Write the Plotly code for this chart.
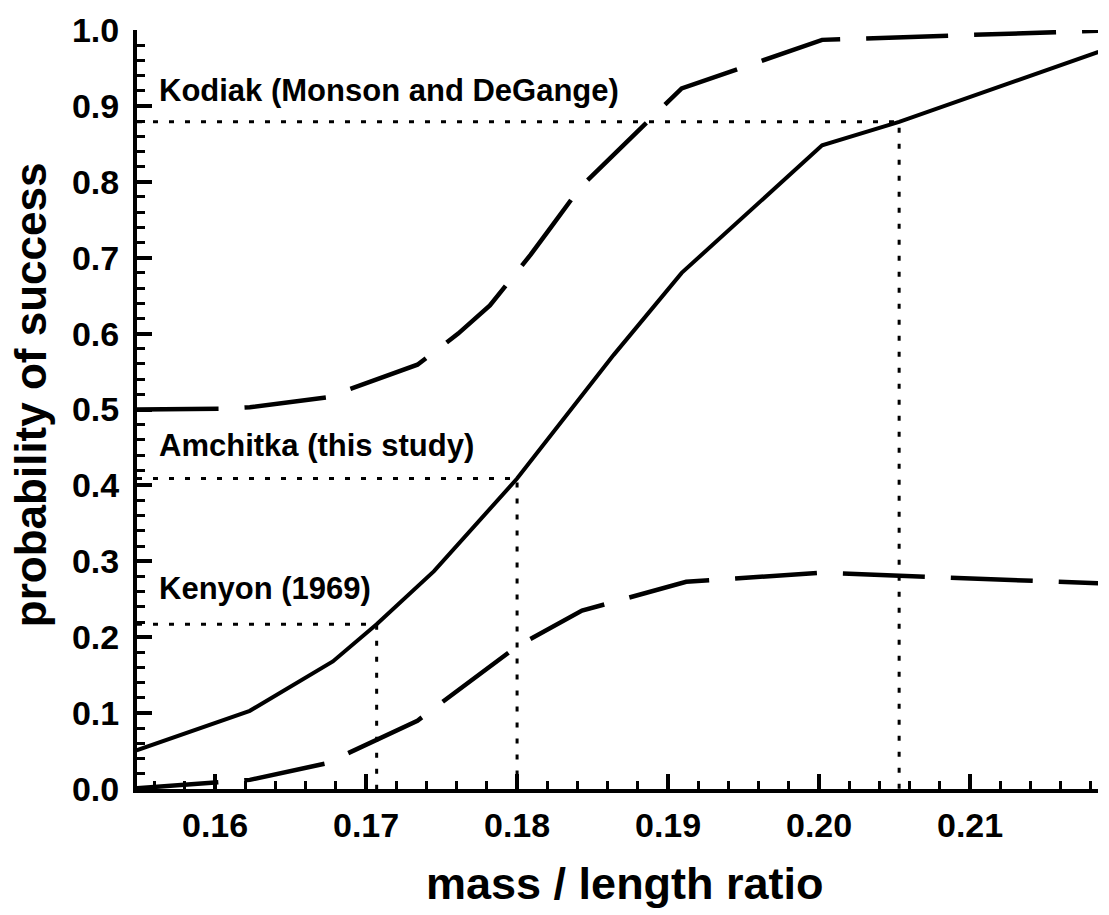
import plotly.graph_objects as go

# Amchitka logistic fit (solid) and its confidence bounds (dashed)
amchitka_mass = [0.1548, 0.1623, 0.1678, 0.1707, 0.1745, 0.1800, 0.1864, 0.1909, 0.2002, 0.2053, 0.2185]
amchitka_prob = [0.051, 0.103, 0.168, 0.217, 0.287, 0.409, 0.572, 0.680, 0.848, 0.879, 0.971]

upper_mass = [0.1548, 0.1605, 0.1623, 0.1674, 0.1734, 0.1761, 0.1782, 0.1809, 0.1822, 0.1842, 0.1909, 0.2002, 0.2185]
upper_prob = [0.500, 0.501, 0.503, 0.516, 0.559, 0.600, 0.637, 0.704, 0.739, 0.793, 0.923, 0.987, 0.999]

lower_mass = [0.1548, 0.1623, 0.1674, 0.1734, 0.1800, 0.1843, 0.1912, 0.2001, 0.2185]
lower_prob = [0.001, 0.012, 0.034, 0.090, 0.188, 0.235, 0.273, 0.285, 0.271]

# Reference populations: mean mass/length ratio and the matching probability
ref_labels = ["Kenyon (1969)", "Amchitka (this study)", "Kodiak (Monson and DeGange)"]
ref_mass = [0.1707, 0.1800, 0.2053]
ref_prob = [0.217, 0.409, 0.879]

x_ticks = [0.16, 0.17, 0.18, 0.19, 0.20, 0.21]
y_ticks = [0.0, 0.1, 0.2, 0.3, 0.4, 0.5, 0.6, 0.7, 0.8, 0.9, 1.0]

X_MIN, X_MAX = 0.15483, 0.21847
FONT = "Liberation Sans, Arial, Helvetica, sans-serif"

fig = go.Figure()

# dotted guide lines for each reference population
for m, p in zip(ref_mass, ref_prob):
    fig.add_trace(go.Scatter(
        x=[X_MIN, m, m], y=[p, p, 0],
        mode="lines", line=dict(color="black", width=3, dash="5px,11px"),
        hoverinfo="skip", showlegend=False))

fig.add_trace(go.Scatter(x=upper_mass, y=upper_prob, mode="lines",
                         line=dict(color="black", width=4.5, dash="82px,26px"),
                         showlegend=False))
fig.add_trace(go.Scatter(x=lower_mass, y=lower_prob, mode="lines",
                         line=dict(color="black", width=4.5, dash="82px,26px"),
                         showlegend=False))
fig.add_trace(go.Scatter(x=amchitka_mass, y=amchitka_prob, mode="lines",
                         line=dict(color="black", width=4),
                         showlegend=False))

# population labels above each horizontal guide
label_y = [0.264, 0.452, 0.92]
for txt, yy in zip(ref_labels, label_y):
    fig.add_annotation(x=X_MIN, y=yy, xref="x", yref="y", text=txt,
                       showarrow=False, xanchor="left", yanchor="middle", xshift=20,
                       font=dict(family=FONT, size=31, color="black", weight="bold"))

fig.add_annotation(x=0.5073, y=-0.125, xref="paper", yref="paper",
                   text="mass / length ratio", showarrow=False,
                   xanchor="center", yanchor="middle",
                   font=dict(family=FONT, size=45, color="black", weight="bold"))
fig.add_annotation(x=-0.1115, y=0.52, xref="paper", yref="paper",
                   text="probability of success", showarrow=False, textangle=-90,
                   xanchor="center", yanchor="middle",
                   font=dict(family=FONT, size=44, color="black", weight="bold"))

axis_common = dict(
    showline=True, linecolor="black", linewidth=4,
    ticks="inside", ticklen=15, tickwidth=4, tickcolor="black",
    showgrid=False, zeroline=False,
    tickfont=dict(family=FONT, size=34, color="black", weight="bold"),
)

fig.update_xaxes(range=[X_MIN, X_MAX], tickvals=x_ticks,
                 ticktext=[f"{v:.2f}" for v in x_ticks],
                 minor=dict(dtick=0.002, tick0=0.16, ticks="inside", ticklen=8,
                            tickwidth=3, tickcolor="black", showgrid=False),
                 ticklabelstandoff=3, **axis_common)
fig.update_yaxes(range=[0, 1.0], tickvals=y_ticks,
                 ticktext=[f"{v:.1f}" for v in y_ticks],
                 minor=dict(dtick=0.02, tick0=0, ticks="inside", ticklen=8,
                            tickwidth=3, tickcolor="black", showgrid=False),
                 ticklabelstandoff=7, **axis_common)

fig.update_layout(
    width=1109, height=915,
    margin=dict(l=137, r=11, t=21, b=126),
    paper_bgcolor="white", plot_bgcolor="white",
)

fig.write_html("out.html")
